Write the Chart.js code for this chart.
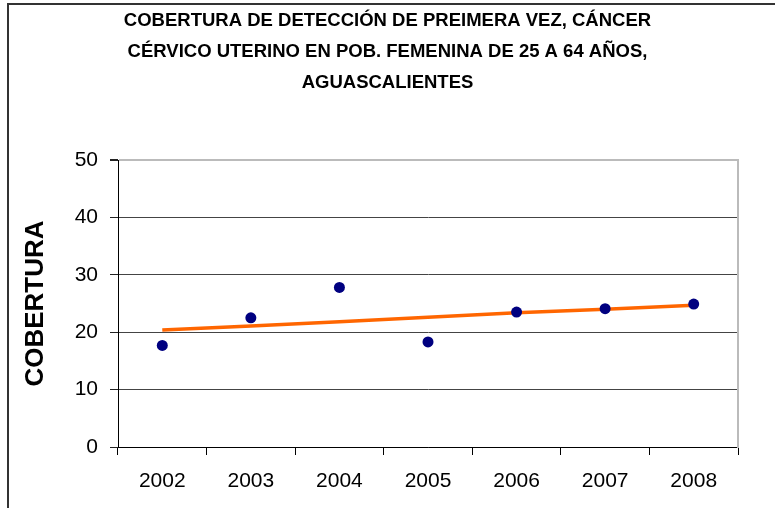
<!DOCTYPE html>
<html lang="es">
<head>
    <meta charset="UTF-8">
    <title>Cobertura de detección - Aguascalientes</title>
    <script src="https://cdn.jsdelivr.net/npm/chart.js"></script>
    <style>
        html, body { margin: 0; padding: 0; background: #fff; }
        #marco {
            position: absolute; left: 7px; top: 3px; width: 770px; height: 510px;
            border-left: 2px solid #333; border-top: 2px solid #333;
        }
        #wrap { position: absolute; left: 0; top: 0; width: 775px; height: 508px; }
    </style>
</head>
<body>
    <div id="marco"></div>
    <div id="wrap"><canvas id="chartCobertura" width="775" height="508"></canvas></div>

    <script>
        // Datos
        const anios = ['2002', '2003', '2004', '2005', '2006', '2007', '2008'];
        const cobertura = [17.7, 22.5, 27.8, 18.3, 23.5, 24.1, 24.9];
        const tendencia = [20.4, 21.1, 21.8, 22.6, 23.4, 24.0, 24.7];
        const tituloLineas = [
            'COBERTURA DE DETECCIÓN DE PREIMERA VEZ, CÁNCER',
            'CÉRVICO UTERINO EN POB. FEMENINA DE 25 A 64 AÑOS,',
            'AGUASCALIENTES'
        ];

        const fuente = "'Liberation Sans', Arial, sans-serif";

        const ctx = document.getElementById('chartCobertura').getContext('2d');
        new Chart(ctx, {
            type: 'line',
            data: {
                labels: anios,
                datasets: [
                    {
                        label: 'Cobertura',
                        data: cobertura,
                        showLine: false,
                        pointRadius: 5.5,
                        pointBackgroundColor: '#000080',
                        pointBorderWidth: 0,
                        order: 1
                    },
                    {
                        label: 'Tendencia',
                        data: tendencia,
                        borderColor: '#ff6600',
                        borderWidth: 3.5,
                        pointRadius: 0,
                        tension: 0,
                        order: 2
                    }
                ]
            },
            options: {
                responsive: false,
                animation: false,
                events: [],
                layout: { padding: 0 },
                plugins: {
                    legend: { display: false },
                    tooltip: { enabled: false },
                    title: {
                        display: true,
                        text: tituloLineas,
                        color: '#000',
                        font: { family: fuente, size: 18.5, weight: 'bold', lineHeight: 31 / 18.5 },
                        padding: { top: 5, bottom: 62 }
                    }
                },
                scales: {
                    x: {
                        offset: true,
                        afterFit: s => { s.height = 61; },
                        border: { color: '#000', width: 1 },
                        grid: { offset: true, drawOnChartArea: false, tickLength: 8, tickColor: '#000' },
                        ticks: { color: '#000', padding: 14, font: { family: fuente, size: 21 } }
                    },
                    y: {
                        min: 0,
                        max: 50,
                        afterFit: s => { s.width = 118; },
                        border: { color: '#000', width: 1 },
                        grid: {
                            color: c => c.tick && c.tick.value === 50 ? '#bbbbbb' : '#444444',
                            lineWidth: c => c.tick && c.tick.value === 50 ? 2 : 1,
                            tickLength: 8,
                            tickColor: '#222'
                        },
                        ticks: { stepSize: 10, color: '#000', padding: 12, font: { family: fuente, size: 21 } },
                        title: {
                            display: true,
                            text: 'COBERTURA',
                            color: '#000',
                            font: { family: fuente, size: 26, weight: 'bold' },
                            padding: { top: 20 }
                        }
                    },
                    y2: {
                        position: 'right',
                        min: 0,
                        max: 50,
                        afterFit: s => { s.width = 37; },
                        border: { color: '#bbbbbb', width: 2 },
                        grid: { drawOnChartArea: false, drawTicks: false },
                        ticks: { display: false }
                    }
                }
            }
        });
    </script>
</body>
</html>
